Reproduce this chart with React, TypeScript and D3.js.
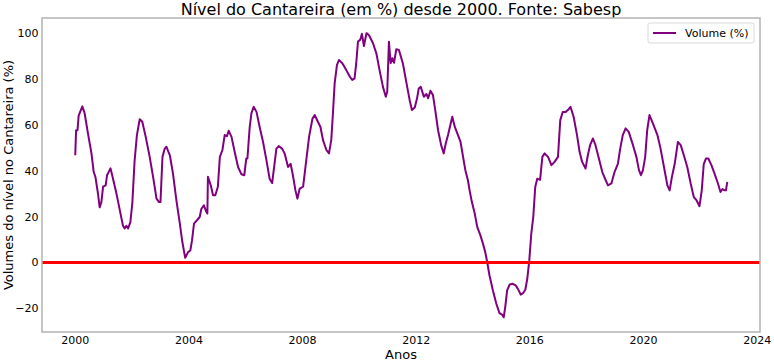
import React from 'react'
import * as d3 from 'd3'

// Nível do Cantareira, leitura aproximada do gráfico original (ano decimal, %)
const anos = [
  2000.00, 2000.03, 2000.08, 2000.12, 2000.25, 2000.33, 2000.45, 2000.57, 2000.65, 2000.71,
  2000.80, 2000.86, 2000.92, 2000.98, 2001.07, 2001.12, 2001.24, 2001.30, 2001.45, 2001.57,
  2001.68, 2001.74, 2001.80, 2001.86, 2001.94, 2002.01, 2002.09, 2002.17, 2002.27, 2002.36,
  2002.48, 2002.62, 2002.74, 2002.86, 2002.95, 2003.00, 2003.07, 2003.15, 2003.21, 2003.33,
  2003.44, 2003.56, 2003.68, 2003.77, 2003.87, 2003.97, 2004.05, 2004.11, 2004.18, 2004.30,
  2004.38, 2004.44, 2004.53, 2004.60, 2004.65, 2004.67, 2004.77, 2004.85, 2004.93, 2005.02,
  2005.09, 2005.18, 2005.26, 2005.34, 2005.40, 2005.50, 2005.61, 2005.73, 2005.85, 2005.95,
  2006.02, 2006.06, 2006.14, 2006.20, 2006.28, 2006.38, 2006.49, 2006.61, 2006.73, 2006.84,
  2006.93, 2007.00, 2007.08, 2007.16, 2007.28, 2007.37, 2007.49, 2007.58, 2007.66, 2007.75,
  2007.82, 2007.90, 2008.02, 2008.13, 2008.23, 2008.35, 2008.43, 2008.54, 2008.63, 2008.72,
  2008.84, 2008.93, 2009.01, 2009.07, 2009.13, 2009.21, 2009.28, 2009.40, 2009.54, 2009.66,
  2009.75, 2009.83, 2009.89, 2009.95, 2010.03, 2010.09, 2010.16, 2010.25, 2010.34, 2010.48,
  2010.60, 2010.71, 2010.83, 2010.93, 2010.98, 2011.04, 2011.10, 2011.16, 2011.22, 2011.30,
  2011.39, 2011.53, 2011.65, 2011.77, 2011.85, 2011.95, 2012.03, 2012.09, 2012.16, 2012.27,
  2012.36, 2012.42, 2012.50, 2012.59, 2012.67, 2012.77, 2012.88, 2012.97, 2013.04, 2013.12,
  2013.20, 2013.27, 2013.35, 2013.47, 2013.56, 2013.64, 2013.73, 2013.82, 2013.88, 2013.96,
  2014.06, 2014.15, 2014.26, 2014.35, 2014.43, 2014.50, 2014.58, 2014.70, 2014.82, 2014.93,
  2015.02, 2015.08, 2015.14, 2015.20, 2015.29, 2015.40, 2015.50, 2015.58, 2015.68, 2015.76,
  2015.84, 2015.91, 2015.98, 2016.05, 2016.12, 2016.19, 2016.26, 2016.36, 2016.44, 2016.52,
  2016.64, 2016.76, 2016.87, 2016.99, 2017.07, 2017.16, 2017.26, 2017.34, 2017.43, 2017.54,
  2017.66, 2017.75, 2017.84, 2017.96, 2018.04, 2018.12, 2018.22, 2018.31, 2018.43, 2018.55,
  2018.67, 2018.75, 2018.87, 2018.98, 2019.10, 2019.18, 2019.27, 2019.37, 2019.48, 2019.63,
  2019.75, 2019.84, 2019.91, 2019.98, 2020.06, 2020.13, 2020.21, 2020.33, 2020.49, 2020.60,
  2020.72, 2020.84, 2020.92, 2021.00, 2021.10, 2021.21, 2021.31, 2021.42, 2021.54, 2021.66,
  2021.77, 2021.87, 2021.97, 2022.05, 2022.12, 2022.20, 2022.28, 2022.39, 2022.50, 2022.62,
  2022.71, 2022.78, 2022.84, 2022.90, 2022.95,
]

const volumes = [
  46.7, 57.6, 57.6, 64, 68, 65, 56, 47.6, 39.4, 37.3,
  30, 24, 26.3, 33, 33.6, 38, 41, 38, 30, 22.7,
  16, 14.8, 16, 14.8, 17.6, 26, 44.5, 55.5, 62.4, 61.3,
  54.7, 46, 37.3, 27.8, 26.3, 26.3, 46, 49.6, 50.4, 46.7,
  38.7, 27, 17, 8.9, 2, 4.5, 5.2, 9.6, 16.9, 18.6,
  19.8, 23.4, 24.9, 22.4, 21.3, 37.3, 33.6, 29.3, 29.3, 33,
  46, 49, 55.5, 55, 57.4, 54.7, 48.2, 41.6, 38.4, 38,
  45.3, 45.3, 59, 65, 67.8, 65.6, 59, 52.5, 44.5, 36.5,
  34.6, 41.6, 49.6, 50.7, 49.6, 47.5, 41.6, 43, 38, 31.4,
  27.8, 32.2, 33, 44.5, 54.7, 62.7, 64.2, 61.3, 59, 53.3,
  49, 47.5, 53.3, 65, 78, 86, 88.2, 86.8, 83.8, 81,
  79.5, 80.2, 86.8, 96.2, 97, 99.6, 94.3, 99.9, 99, 95.5,
  91, 83.8, 76.5, 72.2, 74.4, 96.2, 86.8, 89, 87, 92.9,
  92.6, 86.8, 78.7, 70.7, 66.4, 67.5, 71.5, 75.8, 76.5, 72.2,
  73.4, 71.5, 74.8, 72.9, 66.4, 57.6, 51, 47.5, 51.8, 55.5,
  59.8, 63.5, 59.4, 55.5, 52.5, 46.7, 40.2, 35.8, 31.4, 26.3,
  21.3, 15.4, 11.8, 8.2, 4.5, 0.1, -5.7, -12.2, -18, -22.1,
  -22.7, -23.9, -18.8, -12.2, -9.6, -9.3, -10, -11.5, -14, -13.4,
  -11.9, -7.1, 0.9, 12.5, 19.8, 32.9, 36.5, 36, 46, 47.5,
  46, 42.4, 43.8, 46, 62, 65.6, 65.6, 66.4, 67.8, 63.5,
  55.5, 48.2, 43.8, 40.9, 46.7, 51.1, 54, 51.1, 45.3, 39.4,
  35.8, 33.6, 34.4, 39.4, 43.1, 49.6, 55.5, 58.4, 56.9, 51.1,
  46, 40.2, 38, 40.2, 46, 57.6, 64.2, 60.6, 55.5, 49.6,
  41.6, 33.6, 31.4, 37.3, 43.1, 52.5, 51.1, 46.7, 41.6, 34.4,
  28.5, 27, 24.5, 31.4, 42.8, 45.3, 45.3, 42.4, 38.7, 34.4,
  30.7, 32, 31.5, 31.4, 35.1,
]

const xTicks = [2000, 2004, 2008, 2012, 2016, 2020, 2024]
const yTicks = [-20, 0, 20, 40, 60, 80, 100]

const W = 774
const H = 362
const plot = { left: 42, right: 760, top: 18, bottom: 332 }
const font = '"DejaVu Sans", sans-serif'

const App = () => {
  const x = d3.scaleLinear().domain([1998.83, 2024.1]).range([plot.left, plot.right])
  const y = d3.scaleLinear().domain([-30.3, 106.5]).range([plot.bottom, plot.top])

  const line = d3
    .line<number>()
    .x((_, i) => x(anos[i]))
    .y(d => y(d))

  return (
    <div style={{ position: 'absolute', left: 0, top: 0 }}>
      <svg width={W} height={H} style={{ display: 'block', background: '#fff' }}>
        <text x={401} y={15} textAnchor="middle" fontFamily={font} fontSize={16} fill="#000">
          Nível do Cantareira (em %) desde 2000. Fonte: Sabesp
        </text>

        <path d={line(volumes) ?? ''} fill="none" stroke="purple" strokeWidth={2} strokeLinejoin="round" />
        <line x1={plot.left} x2={plot.right} y1={y(0)} y2={y(0)} stroke="red" strokeWidth={3} />

        <rect
          x={plot.left}
          y={plot.top}
          width={plot.right - plot.left}
          height={plot.bottom - plot.top}
          fill="none"
          stroke="#b3b3b3"
          strokeWidth={1.5}
        />

        {yTicks.map(t => (
          <text key={t} x={38.5} y={y(t) + 4} textAnchor="end" fontFamily={font} fontSize={11}>
            {t < 0 ? `\u2212${Math.abs(t)}` : t}
          </text>
        ))}
        {xTicks.map(t => (
          <text key={t} x={x(t)} y={343.5} textAnchor="middle" fontFamily={font} fontSize={11}>
            {t}
          </text>
        ))}

        <text x={401} y={358.5} textAnchor="middle" fontFamily={font} fontSize={13}>
          Anos
        </text>
        <text
          transform="translate(13,175) rotate(-90)"
          textAnchor="middle"
          fontFamily={font}
          fontSize={13}
        >
          Volumes do nível no Cantareira (%)
        </text>

        <g>
          <rect x={648} y={23} width={106} height={20} rx={2} fill="#fff" fillOpacity={0.8} stroke="#d9d9d9" />
          <line x1={653} x2={676} y1={33} y2={33} stroke="purple" strokeWidth={2} />
          <text x={685} y={37} fontFamily={font} fontSize={11}>
            Volume (%)
          </text>
        </g>
      </svg>
    </div>
  )
}

export default App
